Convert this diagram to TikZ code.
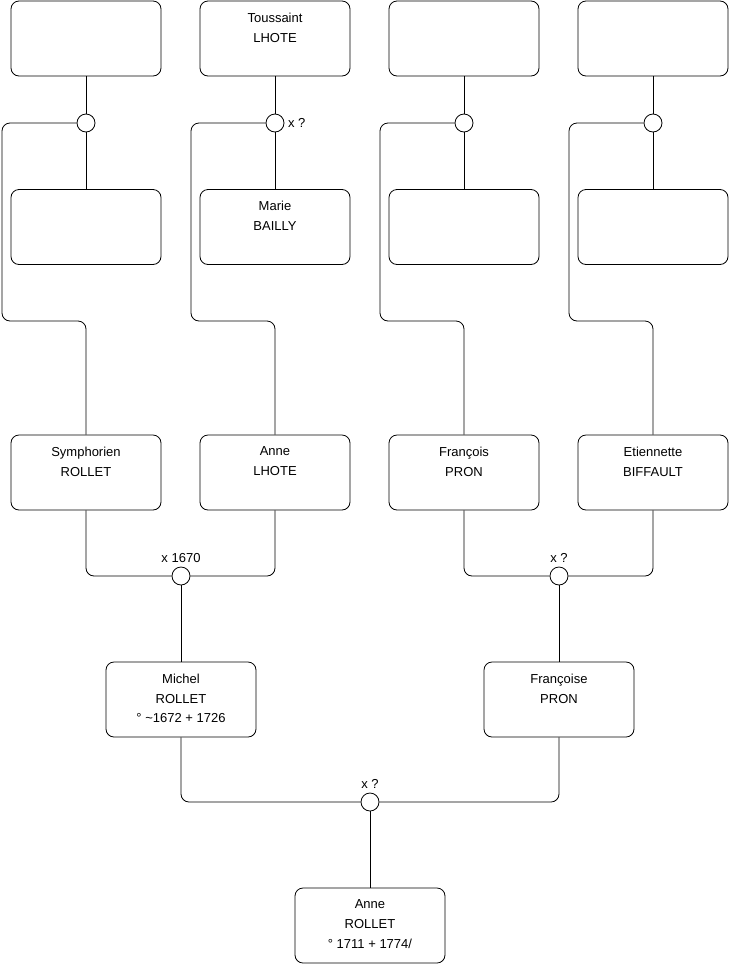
\documentclass[tikz,border=0pt]{standalone}
\usepackage{fontspec}
\setmainfont{Liberation Sans}
\newcommand{\who}[1]{\parbox[c][51pt][t]{140pt}{\centering #1}}
\tikzset{
  person/.style={draw, rounded corners=8pt, minimum width=150pt, minimum height=75pt, inner sep=0pt},
  union/.style={draw, circle, fill=white, minimum size=18pt, inner sep=0pt},
  link/.style={rounded corners=8pt}
}
\begin{document}
\begin{tikzpicture} [x=1pt, y=-1pt, line width=0.8pt, font=\fontsize{13}{19.6}\selectfont]
\useasboundingbox (0,0) rectangle (740,975);

% great-grandparents
\node[person] (a1) at (86,38.5) {\who{}};
\node[person] (a2) at (275,38.5) {\who{Toussaint\\LHOTE}};
\node[person] (a3) at (464,38.5) {\who{}};
\node[person] (a4) at (653,38.5) {\who{}};
\node[person] (b1) at (86,227) {\who{}};
\node[person] (b2) at (275,227) {\who{Marie\\BAILLY}};
\node[person] (b3) at (464,227) {\who{}};
\node[person] (b4) at (653,227) {\who{}};

% grandparents
\node[person] (c1) at (86,472.5) {\who{Symphorien\\ROLLET}};
\node[person] (c2) at (275,472.5) {\who{Anne\\LHOTE}};
\node[person] (c3) at (464,472.5) {\who{François\\PRON}};
\node[person] (c4) at (653,472.5) {\who{Etiennette\\BIFFAULT}};

\foreach \i/\x in {1/86,2/275,3/464,4/653} {
  \node[union] (u\i) at (\x,123) {};
  \draw (a\i.south) -- (u\i) -- (b\i.north);
  \draw[link] (u\i.west) -| (\x-84,321) -| (c\i.north);
}
\node[right] at (u2.east) {x ?};

% parents
\node[union, label={[label distance=0pt]above:x 1670}] (m1) at (181,576) {};
\node[union, label={[label distance=0pt]above:x ?}] (m2) at (559,576) {};
\draw[link] (c1.south) |- (m1.west);
\draw[link] (c2.south) |- (m1.east);
\draw[link] (c3.south) |- (m2.west);
\draw[link] (c4.south) |- (m2.east);

\node[person] (michel) at (181,699.5) {\who{Michel\\ROLLET\\° \textasciitilde1672 + 1726}};
\node[person] (francoise) at (559,699.5) {\who{Françoise\\PRON}};
\draw (m1) -- (michel.north);
\draw (m2) -- (francoise.north);

% Anne
\node[union, label={[label distance=0pt]above:x ?}] (m3) at (370,802) {};
\draw[link] (michel.south) |- (m3.west);
\draw[link] (francoise.south) |- (m3.east);
\node[person] (anne) at (370,925.5) {\who{Anne\\ROLLET\\° 1711 + 1774/}};
\draw (m3) -- (anne.north);
\end{tikzpicture}
\end{document}
